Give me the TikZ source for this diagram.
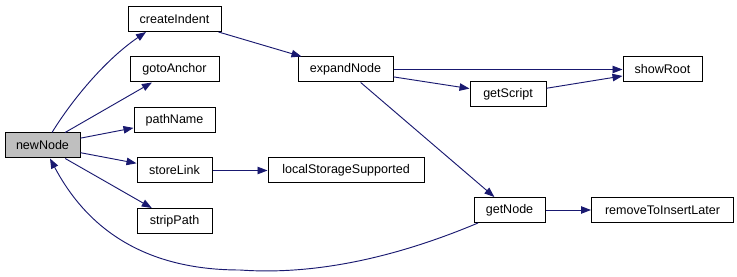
\documentclass[tikz,border=0pt]{standalone}
\usepackage{fontspec}
\setmainfont{Liberation Sans}
\usetikzlibrary{arrows.meta,calc}
\definecolor{edgeblue}{HTML}{191970}
\definecolor{rootgrey}{HTML}{BFBFBF}
\tikzset{
  fn/.style={draw=black, line width=0.75pt, fill=white, rectangle, inner sep=0pt,
    minimum height=18.75pt, font=\fontsize{9.4}{11}\selectfont},
  call/.style={draw=edgeblue, line width=0.7pt,
    -{Triangle[length=7.5pt,width=5.6pt]}, fill=none},
}
\begin{document}
\begin{tikzpicture}[x=0.75pt, y=-0.75pt]
  \useasboundingbox (0,0) rectangle (737,277);
  % functions
  \node[fn, fill=rootgrey, minimum width=56.25pt] (newNode) at (42.5,145.5) {newNode};
  \node[fn, minimum width=69.75pt] (createIndent) at (174.5,19) {createIndent};
  \node[fn, minimum width=66.75pt] (gotoAnchor) at (174.5,69.5) {gotoAnchor};
  \node[fn, minimum width=60.75pt] (pathName) at (174.5,120) {pathName};
  \node[fn, minimum width=56.25pt] (storeLink) at (174.5,170.5) {storeLink};
  \node[fn, minimum width=56.25pt] (stripPath) at (174.5,221) {stripPath};
  \node[fn, minimum width=117pt] (localStorage) at (346,170.5) {localStorageSupported};
  \node[fn, minimum width=71.25pt] (expandNode) at (345.5,69.5) {expandNode};
  \node[fn, minimum width=57pt] (getScript) at (508,94.5) {getScript};
  \node[fn, minimum width=59.25pt] (showRoot) at (662.5,69.5) {showRoot};
  \node[fn, minimum width=53.25pt] (getNode) at (509.5,210) {getNode};
  \node[fn, minimum width=106.5pt] (removeLater) at (662.5,210) {removeToInsertLater};
  % calls
  \draw[call] ($(newNode.north)+(9.5,0)$) .. controls (72,100) and (105,60) .. ($(createIndent.south)+(-28.5,0)$);
  \draw[call] (newNode) -- (gotoAnchor);
  \draw[call] (newNode) -- (pathName);
  \draw[call] (newNode) -- (storeLink);
  \draw[call] (newNode) -- (stripPath);
  \draw[call] (storeLink) -- (localStorage);
  \draw[call] (createIndent) -- (expandNode);
  \draw[call] (expandNode) -- (showRoot);
  \draw[call] (expandNode) -- (getScript);
  \draw[call] (getScript) -- (showRoot);
  \draw[call] (expandNode) -- (getNode);
  \draw[call] (getNode) -- (removeLater);
  \draw[call] ($(getNode.south)+(-31.5,0)$) .. controls (390,260) and (310,275) .. (240,270)
    .. controls (130,270) and (80,215) .. ($(newNode.south)+(7.5,0)$);
\end{tikzpicture}
\end{document}
